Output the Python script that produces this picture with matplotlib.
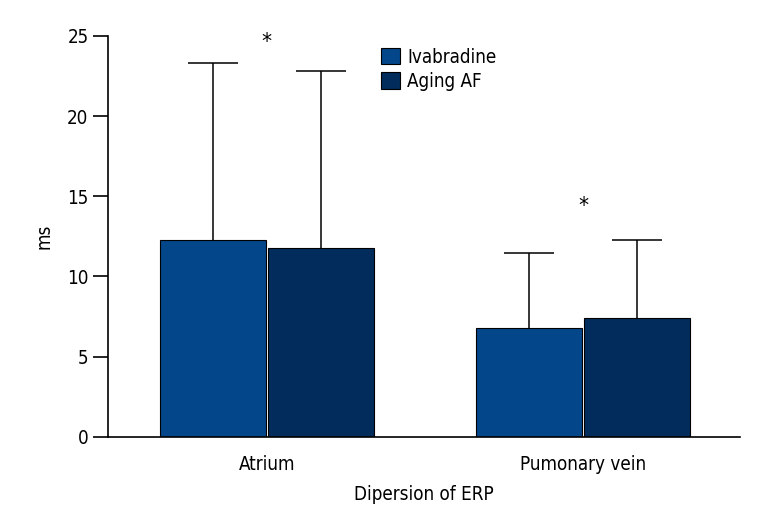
import matplotlib
matplotlib.use("Agg")
import matplotlib.pyplot as plt
from matplotlib.patches import Patch
import numpy as np

categories = ["Atrium", "Pumonary vein"]
series_names = ["Ivabradine", "Aging AF"]
ivabradine = [12.3, 6.8]
ivabradine_err = [11.0, 4.65]
aging_af = [11.75, 7.4]
aging_af_err = [11.05, 4.85]
star_y = [24.6, 14.4]
yticks = [0, 5, 10, 15, 20, 25]

colors = ["#03468a", "#012c5b"]

plt.rcParams['font.family'] = ['DejaVu Sans']
plt.rcParams['font.stretch'] = 'condensed'

fig = plt.figure(figsize=(7.68, 5.28), dpi=100)
ax = fig.add_axes([108/768, 1-436.7/528, (740-108)/768, (436.7-36)/528])

x = np.arange(len(categories))
w = 0.335
off = 0.171
ax.bar(x - off, ivabradine, w, color=colors[0], edgecolor='black', linewidth=0.8,
       label=series_names[0], zorder=2)
ax.bar(x + off, aging_af, w, color=colors[1], edgecolor='black', linewidth=0.8,
       label=series_names[1], zorder=2)
for xs, vals, errs in [(x - off, ivabradine, ivabradine_err), (x + off, aging_af, aging_af_err)]:
    eb = ax.errorbar(xs, vals, yerr=[np.zeros(len(errs)), errs], fmt='none',
                     ecolor='black', elinewidth=1.1, capthick=1.1, capsize=18, zorder=1)
    eb[1][0].set_visible(False)

for xi, sy in zip(x, star_y):
    ax.text(xi, sy, "*", ha='center', va='center', fontsize=16)

ax.set_xlim(-0.502, 1.496)
ax.set_ylim(0, 25)
ax.set_yticks(yticks)
ax.set_xticks(x)
ax.set_xticklabels(categories, fontsize=13.5)
ax.tick_params(axis='y', labelsize=13.5, length=11, width=1.2, direction='out', pad=3)
ax.tick_params(axis='x', length=0, pad=13)
for s in ['top', 'right']:
    ax.spines[s].set_visible(False)
for s in ['left', 'bottom']:
    ax.spines[s].set_linewidth(1.2)

ax.set_ylabel("ms", fontsize=13.5, labelpad=10)
ax.set_xlabel("Dipersion of ERP", fontsize=13.5, labelpad=8)

handles = [Patch(facecolor=c, edgecolor='black', linewidth=0.8) for c in colors]
ax.legend(handles, series_names, loc='upper left', bbox_to_anchor=(0.42, 0.99),
          frameon=False, fontsize=13.5, handlelength=1.0, handleheight=1.0,
          handletextpad=0.4, labelspacing=0.3, borderaxespad=0)

fig.savefig("out.png", dpi=100)
